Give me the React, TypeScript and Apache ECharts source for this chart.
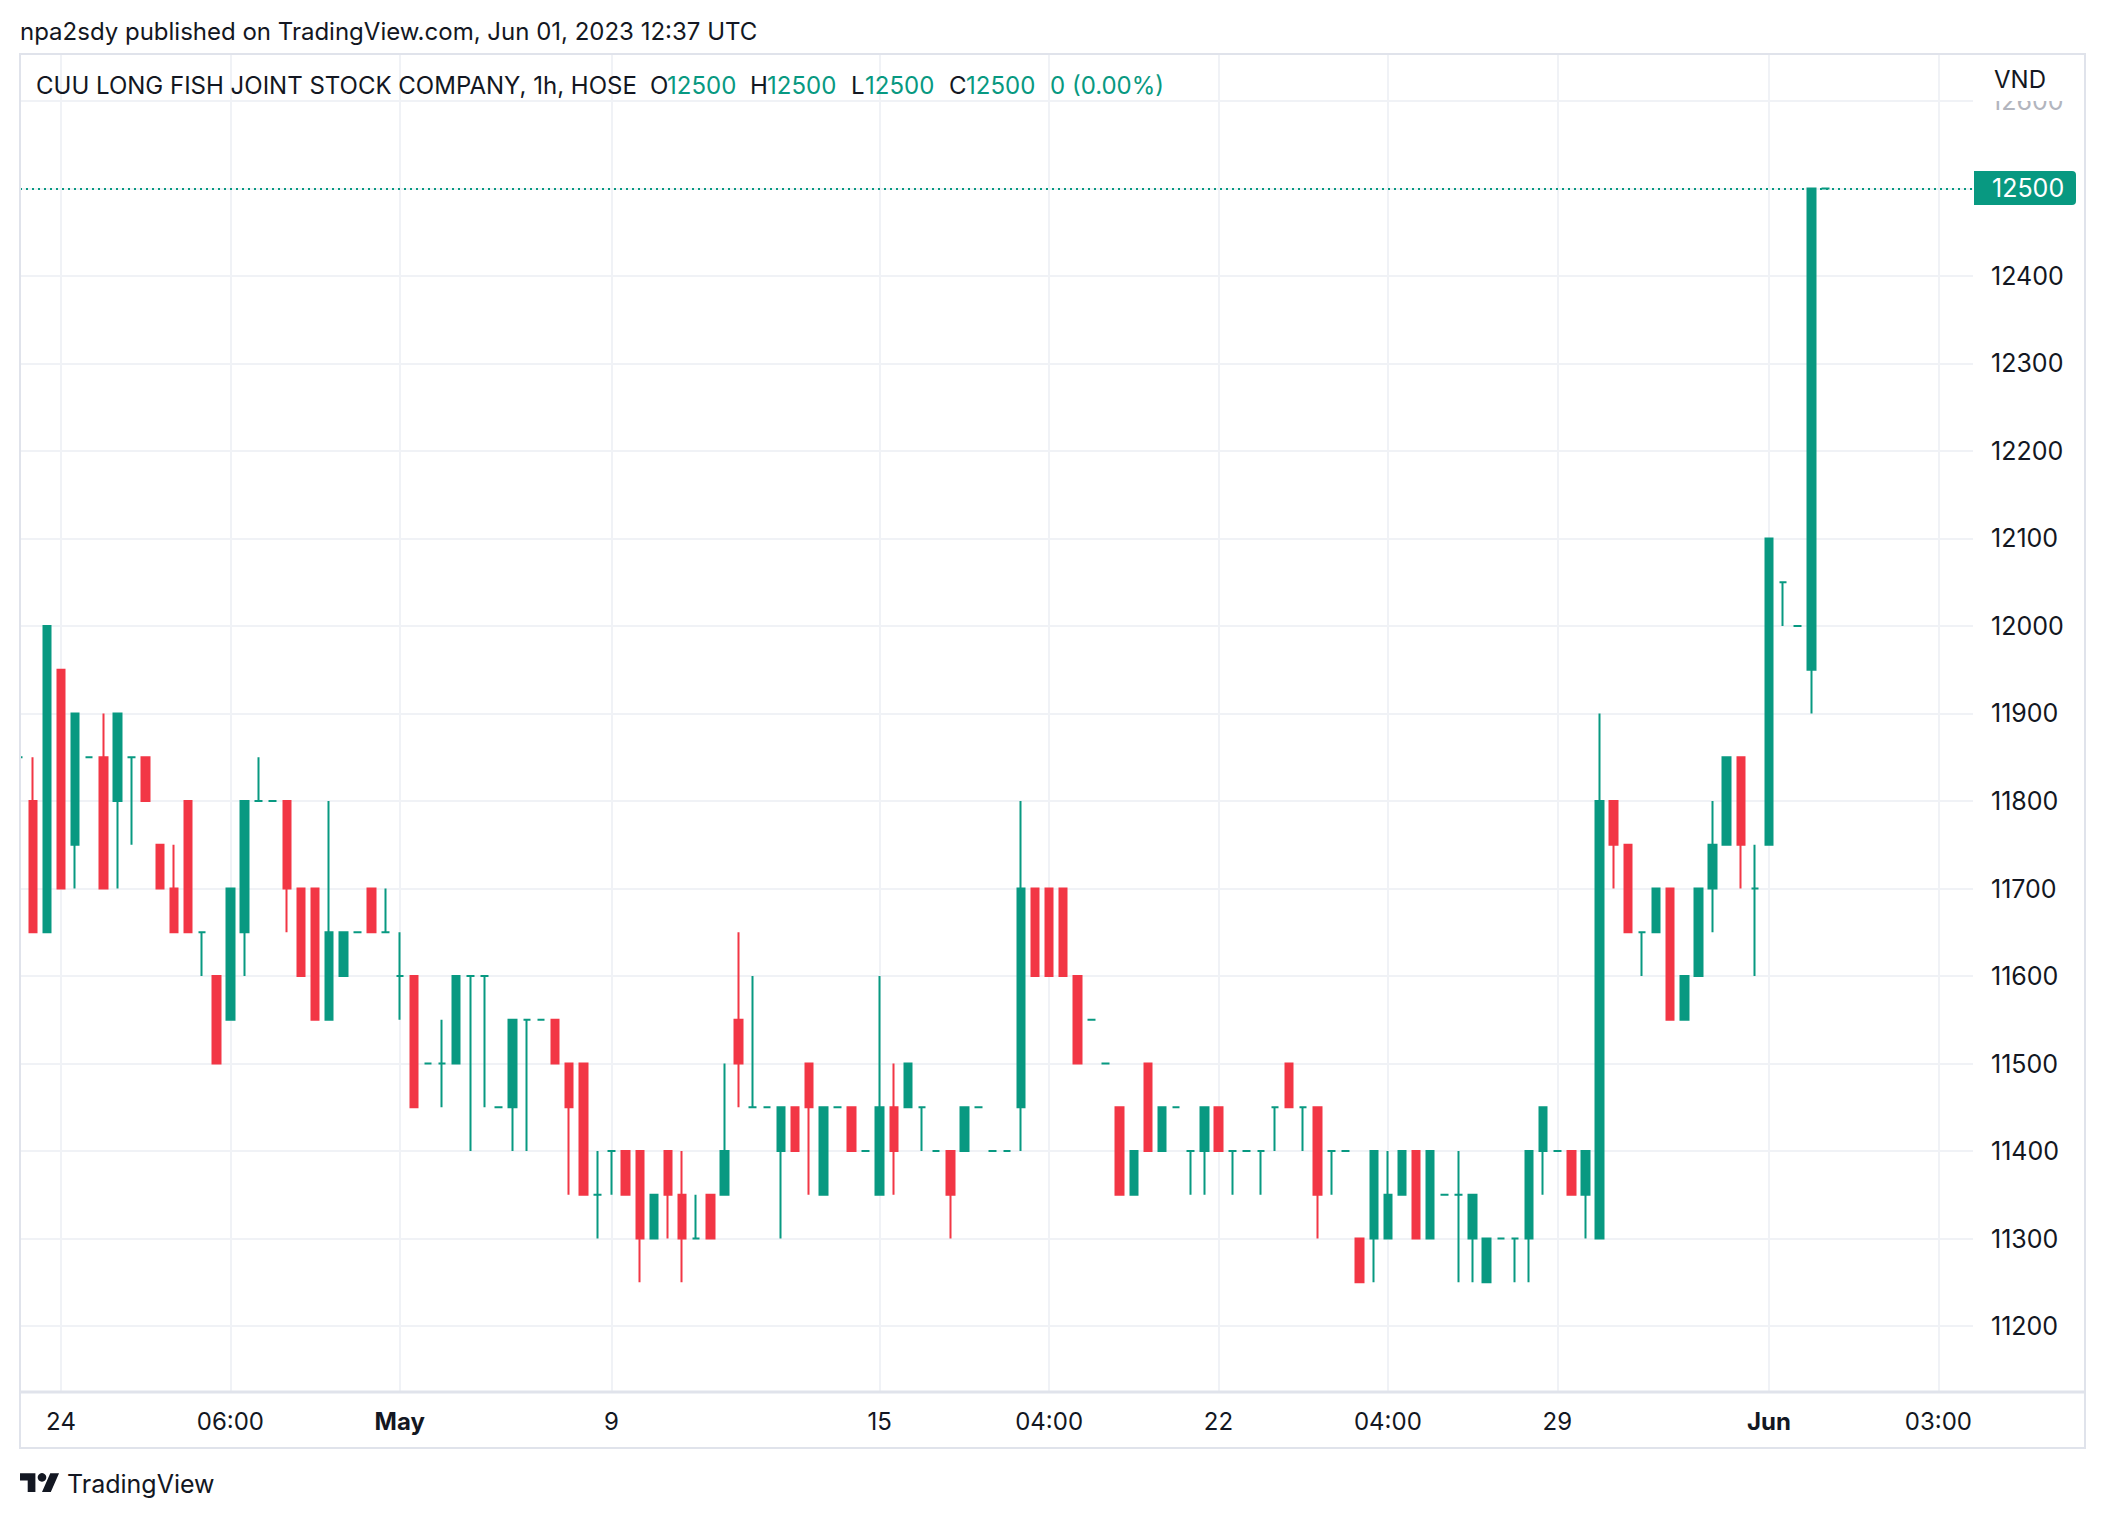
import React, { useEffect, useRef } from 'react';
import * as echarts from 'echarts';

// ---- data (hourly candles, CUU LONG FISH / HOSE) ----
const opens = [
  11850, 11800, 11650, 11950, 11750, 11850, 11850, 11800, 11850, 11850,
  11750, 11700, 11800, 11650, 11600, 11550, 11650, 11800, 11800, 11800,
  11700, 11700, 11550, 11600, 11650, 11700, 11650, 11600, 11600, 11500,
  11500, 11500, 11600, 11600, 11450, 11450, 11550, 11550, 11550, 11500,
  11500, 11350, 11400, 11400, 11400, 11300, 11400, 11350, 11300, 11350,
  11350, 11550, 11450, 11450, 11400, 11450, 11500, 11350, 11450, 11450,
  11400, 11350, 11450, 11450, 11450, 11400, 11400, 11400, 11450, 11400,
  11400, 11450, 11700, 11700, 11700, 11600, 11550, 11500, 11450, 11350,
  11500, 11400, 11450, 11400, 11400, 11450, 11400, 11400, 11400, 11450,
  11500, 11450, 11450, 11400, 11400, 11300, 11300, 11300, 11350, 11400,
  11300, 11350, 11350, 11300, 11250, 11300, 11300, 11300, 11400, 11400,
  11400, 11350, 11300, 11800, 11750, 11650, 11650, 11700, 11550, 11600,
  11700, 11750, 11850, 11700, 11750, 12050, 12000, 11950, 12500,
];
const closes = [
  11850, 11650, 12000, 11700, 11900, 11850, 11700, 11900, 11850, 11800,
  11700, 11650, 11650, 11650, 11500, 11700, 11800, 11800, 11800, 11700,
  11600, 11550, 11650, 11650, 11650, 11650, 11650, 11600, 11450, 11500,
  11500, 11600, 11600, 11600, 11450, 11550, 11550, 11550, 11500, 11450,
  11350, 11350, 11400, 11350, 11300, 11350, 11350, 11300, 11300, 11300,
  11400, 11500, 11450, 11450, 11450, 11400, 11450, 11450, 11450, 11400,
  11400, 11450, 11400, 11500, 11450, 11400, 11350, 11450, 11450, 11400,
  11400, 11700, 11600, 11600, 11600, 11500, 11550, 11500, 11350, 11400,
  11400, 11450, 11450, 11400, 11450, 11400, 11400, 11400, 11400, 11450,
  11450, 11450, 11350, 11400, 11400, 11250, 11400, 11350, 11400, 11300,
  11400, 11350, 11350, 11350, 11300, 11300, 11300, 11400, 11450, 11400,
  11350, 11400, 11800, 11750, 11650, 11650, 11700, 11550, 11600, 11700,
  11750, 11850, 11750, 11700, 12100, 12050, 12000, 12500, 12500,
];
const lows = [
  11850, 11650, 11650, 11700, 11700, 11850, 11700, 11700, 11750, 11800,
  11700, 11650, 11650, 11600, 11500, 11550, 11600, 11800, 11800, 11650,
  11600, 11550, 11550, 11600, 11650, 11650, 11650, 11550, 11450, 11500,
  11450, 11500, 11400, 11450, 11450, 11400, 11400, 11550, 11500, 11350,
  11350, 11300, 11350, 11350, 11250, 11300, 11300, 11250, 11300, 11300,
  11350, 11450, 11450, 11450, 11300, 11400, 11350, 11350, 11450, 11400,
  11400, 11350, 11350, 11450, 11400, 11400, 11300, 11400, 11450, 11400,
  11400, 11400, 11600, 11600, 11600, 11500, 11550, 11500, 11350, 11350,
  11400, 11400, 11450, 11350, 11350, 11400, 11350, 11400, 11350, 11400,
  11450, 11400, 11300, 11350, 11400, 11250, 11250, 11300, 11350, 11300,
  11300, 11350, 11250, 11250, 11250, 11300, 11250, 11250, 11350, 11400,
  11350, 11300, 11300, 11700, 11650, 11600, 11650, 11550, 11550, 11600,
  11650, 11750, 11700, 11600, 11750, 12000, 12000, 11900, 12500,
];
const highs = [
  11850, 11850, 12000, 11950, 11900, 11850, 11900, 11900, 11850, 11850,
  11750, 11750, 11800, 11650, 11600, 11700, 11800, 11850, 11800, 11800,
  11700, 11700, 11800, 11650, 11650, 11700, 11700, 11650, 11600, 11500,
  11550, 11600, 11600, 11600, 11450, 11550, 11550, 11550, 11550, 11500,
  11500, 11400, 11400, 11400, 11400, 11350, 11400, 11400, 11350, 11350,
  11500, 11650, 11600, 11450, 11450, 11450, 11500, 11450, 11450, 11450,
  11400, 11600, 11500, 11500, 11450, 11400, 11400, 11450, 11450, 11400,
  11400, 11800, 11700, 11700, 11700, 11600, 11550, 11500, 11450, 11400,
  11500, 11450, 11450, 11400, 11450, 11450, 11400, 11400, 11400, 11450,
  11500, 11450, 11450, 11400, 11400, 11300, 11400, 11400, 11400, 11400,
  11400, 11350, 11400, 11350, 11300, 11300, 11300, 11400, 11450, 11400,
  11400, 11400, 11900, 11800, 11750, 11650, 11700, 11700, 11600, 11700,
  11800, 11850, 11850, 11750, 12100, 12050, 12000, 12500, 12500,
];
const xTickPositions = [4, 16, 28, 43, 62, 74, 86, 98, 110, 125, 137];
const xTickLabels = ['24', '06:00', 'May', '9', '15', '04:00', '22', '04:00', '29', 'Jun', '03:00'];
const yTicks = [11200, 11300, 11400, 11500, 11600, 11700, 11800, 11900, 12000, 12100, 12200, 12300, 12400, 12500, 12600];
const lastPrice = 12500;

const UP = '#089981';
const DOWN = '#F23645';
const TEXT = '#131722';
const GRID = '#f0f2f6';
const BORDER = '#e0e3eb';
const FONT = 'Inter';

echarts.graphic.registerShape(
  'tvlogo',
  echarts.graphic.extendPath('M14 22H7V11H0V4h14v18zM28 22h-8l7.5-18h8L28 22z', {})
);

export default function App() {
  const ref = useRef<HTMLDivElement>(null);
  useEffect(() => {
    if (!ref.current) return;
    const chart = echarts.init(ref.current, undefined, { renderer: 'svg' });

    const candleData = opens.map((o, i) => {
      const c = closes[i];
      const col = c >= o ? UP : DOWN;
      return {
        value: [i + 1, o, c, lows[i], highs[i]],
        itemStyle: { color: col, color0: col, borderColor: col, borderColor0: col, borderColorDoji: col },
      };
    });

    const titleSegs: [string, number, string][] = [
      ['CUU LONG FISH JOINT STOCK COMPANY, 1h, HOSE', 36, TEXT],
      ['O', 650, TEXT], ['12500', 667, UP],
      ['H', 750, TEXT], ['12500', 767, UP],
      ['L', 851, TEXT], ['12500', 865, UP],
      ['C', 949, TEXT], ['12500', 966, UP],
      ['0 (0.00%)', 1050, UP],
    ];

    const topTick = yTicks[yTicks.length - 1];

    const option: any = {
      animation: false,
      backgroundColor: '#ffffff',
      grid: { left: 20, top: 54, width: 1953, height: 1337, containLabel: false, outerBoundsMode: 'none' },
      xAxis: {
        type: 'value',
        min: 1.0956,
        max: 139.45,
        axisLine: { show: false },
        axisTick: { show: false, customValues: xTickPositions },
        axisLabel: {
          customValues: xTickPositions,
          margin: 18,
          fontFamily: FONT,
          fontSize: 24,
          color: TEXT,
          formatter: (v: number) => {
            const k = xTickPositions.indexOf(Math.round(v));
            if (k < 0) return '';
            const t = xTickLabels[k];
            return t === 'May' || t === 'Jun' ? '{b|' + t + '}' : t;
          },
          rich: { b: { fontFamily: FONT, fontSize: 24, fontWeight: 'bold', color: TEXT } },
        },
        splitLine: { show: true, lineStyle: { color: GRID, width: 2 } },
      },
      yAxis: {
        type: 'value',
        position: 'right',
        min: 11125.8,
        max: 12653.6,
        axisLine: { show: false },
        axisTick: { show: false, customValues: yTicks },
        axisLabel: {
          customValues: yTicks,
          margin: 18,
          fontFamily: FONT,
          fontSize: 25,
          color: TEXT,
          formatter: (v: number) => {
            const r = Math.round(v);
            return r === topTick ? '{f|' + r + '}' : String(r);
          },
          rich: { f: { fontFamily: FONT, fontSize: 25, color: '#b2b5be' } },
        },
        splitLine: { show: true, lineStyle: { color: GRID, width: 2 } },
      },
      series: [
        {
          type: 'candlestick',
          data: candleData,
          encode: { x: 0, y: [1, 2, 3, 4] },
          barWidth: 8,
          clip: true,
          itemStyle: { borderWidth: 2, color: UP, color0: DOWN, borderColor: UP, borderColor0: DOWN },
          markLine: {
            silent: true,
            symbol: ['none', 'none'],
            label: { show: false },
            lineStyle: { color: UP, type: [2, 4], width: 2 },
            data: [{ yAxis: lastPrice }],
          },
        },
      ],
      graphic: [
        { type: 'rect', z: 40, shape: { x: 0, y: 40, width: 19, height: 1420 }, style: { fill: '#ffffff' } },
        { type: 'text', x: 20, y: 31, z: 100, style: { text: 'npa2sdy published on TradingView.com, Jun 01, 2023 12:37 UTC', fontFamily: FONT, fontSize: 24, fill: TEXT, verticalAlign: 'middle' } },
        ...titleSegs.map(([t, x, col]) => ({
          type: 'text', x, y: 85, z: 100,
          style: { text: t, fontFamily: FONT, fontSize: 24, fill: col, verticalAlign: 'middle' },
        })),
        { type: 'rect', z: 50, shape: { x: 20, y: 54, width: 2065, height: 1394 }, style: { fill: 'none', stroke: BORDER, lineWidth: 2 } },
        { type: 'line', z: 50, shape: { x1: 20, y1: 1392, x2: 2085, y2: 1392 }, style: { stroke: BORDER, lineWidth: 3 } },
        { type: 'rect', z: 60, shape: { x: 1976, y: 56, width: 108, height: 45 }, style: { fill: '#ffffff' } },
        { type: 'text', x: 1994, y: 79, z: 70, style: { text: 'VND', fontFamily: FONT, fontSize: 24, fill: TEXT, verticalAlign: 'middle' } },
        { type: 'rect', z: 80, shape: { x: 1974, y: 171, width: 102, height: 34, r: [0, 4, 4, 0] }, style: { fill: UP } },
        { type: 'text', x: 1992, y: 188, z: 90, style: { text: String(lastPrice), fontFamily: FONT, fontSize: 25, fill: '#ffffff', verticalAlign: 'middle' } },
        { type: 'tvlogo', x: 20, y: 1469, scaleX: 1.1, scaleY: 1.05, z: 100, style: { fill: TEXT } },
        { type: 'circle', z: 100, shape: { cx: 20 + 20 * 1.1, cy: 1469 + 8 * 1.05, r: 4.3 }, style: { fill: TEXT } },
        { type: 'text', x: 67, y: 1484, z: 100, style: { text: 'TradingView', fontFamily: FONT, fontSize: 25, fill: TEXT, verticalAlign: 'middle' } },
      ],
    };

    chart.setOption(option);
    return () => chart.dispose();
  }, []);

  return (
    <div
      ref={ref}
      style={{ position: 'fixed', left: 0, top: 0, width: 2106, height: 1518, background: '#ffffff' }}
    />
  );
}
